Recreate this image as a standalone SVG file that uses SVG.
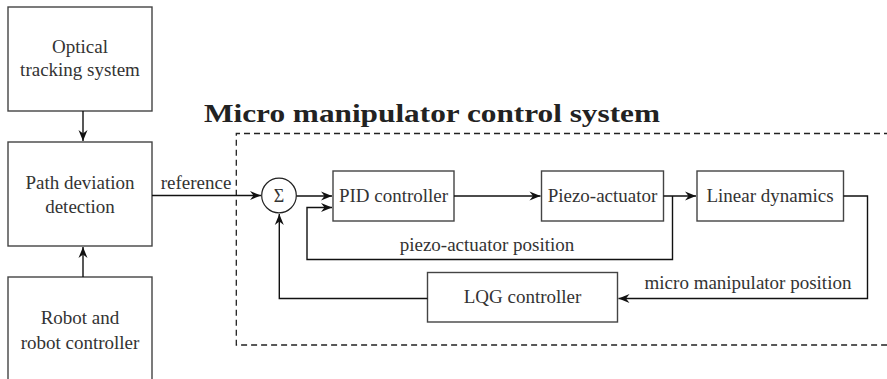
<svg xmlns="http://www.w3.org/2000/svg" width="887" height="379" viewBox="0 0 887 379">
<style>
.box{fill:#fff;stroke:#444;stroke-width:1.4}
.c{fill:none;stroke:#111;stroke-width:1.4}
.dash{fill:none;stroke:#222;stroke-width:1.3;stroke-dasharray:6 4}
</style>
<defs>
<marker id="ah" markerUnits="userSpaceOnUse" markerWidth="14" markerHeight="12" viewBox="-12 -6 14 12" refX="0" refY="0" orient="auto">
<path d="M0,0 L-11,-4.5 L-7.5,0 L-11,4.5 Z" fill="#111"/>
</marker>
</defs>
<rect width="887" height="379" fill="#fff"/>
<text font-family="Liberation Serif" font-size="26" font-weight="bold" fill="#222" x="204" y="122" textLength="456" lengthAdjust="spacingAndGlyphs">Micro manipulator control system</text>
<path class="dash" d="M890,133.5 H236.3 V345 H890"/>
<g id="optical" font-family="Liberation Serif" font-size="19" fill="#333" text-anchor="middle">
<rect class="box" x="8" y="7" width="144" height="104"/>
<text x="80" y="53">Optical</text>
<text x="80" y="76">tracking system</text>
</g>
<g id="pathdev" font-family="Liberation Serif" font-size="19" fill="#333" text-anchor="middle">
<rect class="box" x="8" y="142" width="144" height="104"/>
<text x="80" y="188.5">Path deviation</text>
<text x="80" y="212.5">detection</text>
</g>
<g id="robot" font-family="Liberation Serif" font-size="19" fill="#333" text-anchor="middle">
<rect class="box" x="8" y="277" width="144" height="110"/>
<text x="80" y="324">Robot and</text>
<text x="80" y="348.5">robot controller</text>
</g>
<g id="sum" font-family="Liberation Serif" font-size="18" fill="#333" text-anchor="middle">
<circle cx="279" cy="195.5" r="17.3" fill="#fff" stroke="#222" stroke-width="1.2"/>
<text x="279" y="202">Σ</text>
</g>
<g id="pid" font-family="Liberation Serif" font-size="19" fill="#333" text-anchor="middle">
<rect class="box" x="333" y="171" width="121" height="50"/>
<text x="393.5" y="202">PID controller</text>
</g>
<g id="piezo" font-family="Liberation Serif" font-size="19" fill="#333" text-anchor="middle">
<rect class="box" x="541.5" y="171" width="122" height="50"/>
<text x="602.5" y="202">Piezo-actuator</text>
</g>
<g id="linear" font-family="Liberation Serif" font-size="19" fill="#333" text-anchor="middle">
<rect class="box" x="697" y="171" width="146.5" height="50"/>
<text x="770" y="202">Linear dynamics</text>
</g>
<g id="lqg" font-family="Liberation Serif" font-size="19" fill="#333" text-anchor="middle">
<rect class="box" x="427.5" y="272.5" width="190" height="49.5"/>
<text x="522.5" y="303">LQG controller</text>
</g>
<g id="connectors" font-family="Liberation Serif" font-size="19" fill="#333" text-anchor="middle">
<path class="c" d="M83,111 V141" marker-end="url(#ah)"/>
<path class="c" d="M83,277 V247" marker-end="url(#ah)"/>
<path class="c" d="M152,195.5 H261" marker-end="url(#ah)"/>
<path class="c" d="M296.5,196 H332" marker-end="url(#ah)"/>
<path class="c" d="M454,196 H540.5" marker-end="url(#ah)"/>
<path class="c" d="M663.5,196 H696" marker-end="url(#ah)"/>
<path class="c" d="M672.5,196 V259.5 H307 V207.5 H332" marker-end="url(#ah)"/>
<path class="c" d="M843.5,196 H867.5 V298.5 H618.5" marker-end="url(#ah)"/>
<path class="c" d="M427.5,298.5 H279.3 V214" marker-end="url(#ah)"/>
<text x="196" y="188.5">reference</text>
<text x="487" y="251">piezo-actuator position</text>
<text x="748" y="288.5">micro manipulator position</text>
</g>
</svg>
